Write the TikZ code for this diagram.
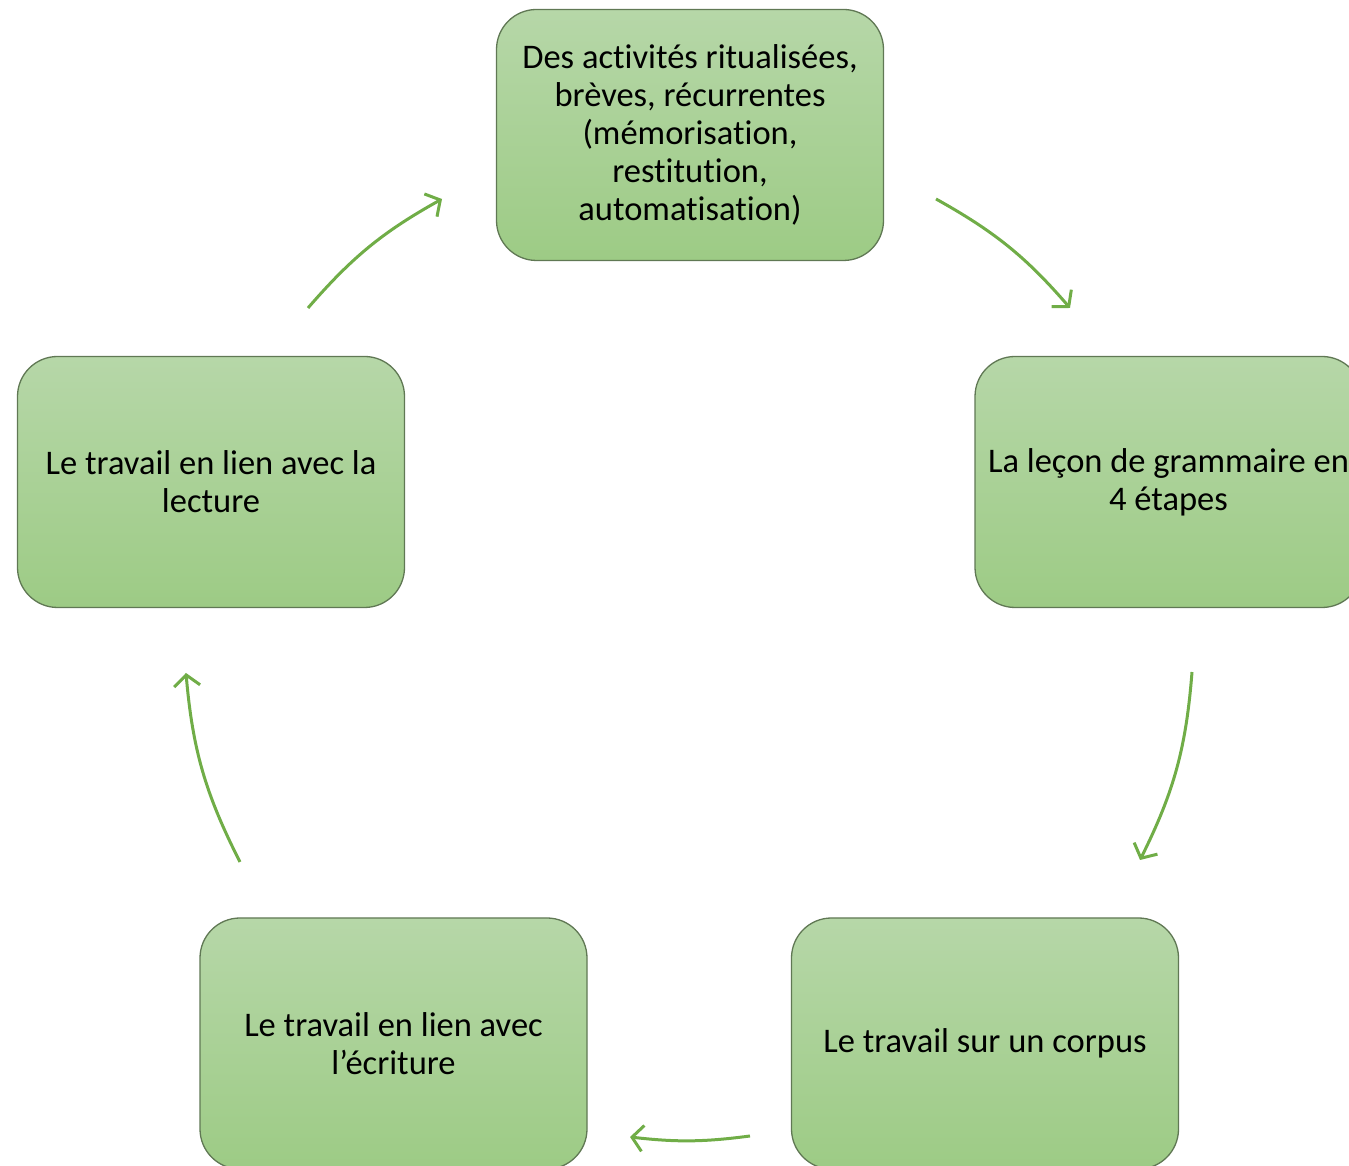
\documentclass[tikz,border=0pt]{standalone}
\usepackage{fontspec}
\setmainfont{Carlito}[Ligatures=NoCommon]
\usetikzlibrary{arrows.meta}
\definecolor{boxtop}{RGB}{182,215,168}
\definecolor{boxbot}{RGB}{157,203,133}
\definecolor{boxline}{RGB}{96,120,84}
\definecolor{arr}{RGB}{112,173,71}
\begin{document}
\begin{tikzpicture}[x=1pt,y=1pt,
  stepbox/.style={rectangle, rounded corners=40pt, minimum width=387pt, minimum height=251pt,
    inner sep=0pt, top color=boxtop, bottom color=boxbot, draw=boxline, line width=1.3pt,
    align=center, font=\fontsize{34.5}{38}\selectfont},
  cyc/.style={draw=arr, line width=3pt, -{Straight Barb[length=11pt,width=26pt,line width=3pt]}}]
\useasboundingbox (0,0) rectangle (1349,1166);
\clip (0,0) rectangle (1349,1166);
\node[stepbox] (top) at (690,1031) {Des activités ritualisées,\\brèves, récurrentes\\(mémorisation,\\restitution,\\automatisation)};
\node[stepbox] (right) at (1168.5,684) {La leçon de grammaire en\\4 étapes};
\node[stepbox] (left) at (211,684) {Le travail en lien avec la\\lecture};
\node[stepbox] (bl) at (393.5,122.5) {Le travail en lien avec\\l’écriture};
\node[stepbox] (br) at (985,122.5) {Le travail sur un corpus};
\coordinate (a1s) at (308,858);
\coordinate (a1e) at (442,967);
\coordinate (a2s) at (936,967);
\coordinate (a2e) at (1070,858);
\coordinate (a3s) at (1192,494);
\coordinate (a3e) at (1140,306);
\coordinate (a4s) at (750,30);
\coordinate (a4e) at (630,29);
\coordinate (a5s) at (240,304);
\coordinate (a5e) at (186,493);
\draw[cyc] (a1s) to[bend left=10] (a1e);
\draw[cyc] (a2s) to[bend left=10] (a2e);
\draw[cyc] (a3s) to[bend left=11] (a3e);
\draw[cyc] (a4s) to[bend left=7] (a4e);
\draw[cyc] (a5s) to[bend left=11] (a5e);
\end{tikzpicture}
\end{document}
